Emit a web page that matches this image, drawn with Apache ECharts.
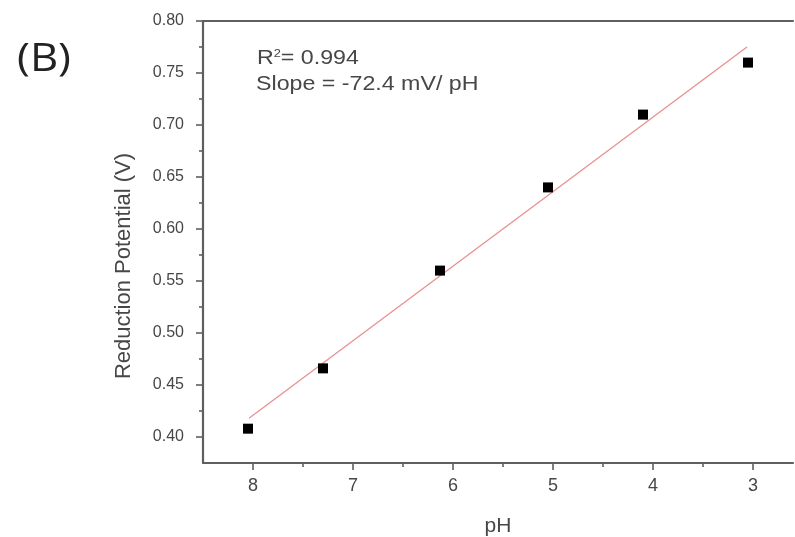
<!DOCTYPE html>
<html><head><meta charset="utf-8">
<script src="https://cdn.jsdelivr.net/npm/echarts@6/dist/echarts.min.js"></script>
<style>html,body{margin:0;padding:0;background:#fff}#c{width:795px;height:537px}</style>
</head><body><div id="c"></div>
<script>
const phValues = [8.05, 7.30, 6.13, 5.05, 4.10, 3.05];
const potentials = [0.408, 0.466, 0.560, 0.640, 0.710, 0.760];
const fitLine = [[8.04, 0.418], [3.06, 0.775]];
const xMajorTicks = [8, 7, 6, 5, 4, 3];
const xMinorTicks = [7.5, 6.5, 5.5, 4.5, 3.5];
const yMajorTicks = [0.40, 0.45, 0.50, 0.55, 0.60, 0.65, 0.70, 0.75, 0.80];
const yMinorTicks = [0.425, 0.475, 0.525, 0.575, 0.625, 0.675, 0.725, 0.775];

const font = 'Liberation Sans, Arial, sans-serif';
const axisCol = '#5f5f5f';
const txtCol = '#474747';
const chart = echarts.init(document.getElementById('c'));
chart.setOption({
  animation: false,
  grid: {left: 203, right: 2, top: 21, bottom: 74, containLabel: false, outerBoundsMode: 'none'},
  xAxis: [
    {type: 'value', inverse: true, min: 2.6, max: 8.5, position: 'bottom',
     name: 'pH', nameLocation: 'middle', nameGap: 53,
     nameTextStyle: {fontFamily: font, fontSize: 21, color: txtCol},
     axisLine: {show: true, onZero: false, lineStyle: {color: axisCol, width: 2.2}},
     axisTick: {show: true, length: 7, customValues: xMajorTicks, lineStyle: {color: axisCol, width: 1.6}},
     axisLabel: {customValues: xMajorTicks, margin: 14, fontFamily: font, fontSize: 18, color: txtCol},
     splitLine: {show: false}},
    {type: 'value', inverse: true, min: 2.6, max: 8.5, position: 'bottom',
     axisLine: {show: false},
     axisTick: {show: true, length: 4, customValues: xMinorTicks, lineStyle: {color: axisCol, width: 1.6}},
     axisLabel: {show: false}, splitLine: {show: false}},
    {type: 'value', inverse: true, min: 2.6, max: 8.5, position: 'top',
     axisLine: {show: true, onZero: false, lineStyle: {color: axisCol, width: 2.2}},
     axisTick: {show: false}, axisLabel: {show: false}, splitLine: {show: false}}
  ],
  yAxis: [
    {type: 'value', min: 0.375, max: 0.80, position: 'left',
     name: 'Reduction Potential (V)', nameLocation: 'middle', nameGap: 68,
     nameTextStyle: {fontFamily: font, fontSize: 22, color: txtCol, padding: [0, 48, 0, 0]},
     axisLine: {show: true, onZero: false, lineStyle: {color: axisCol, width: 2.2}},
     axisTick: {show: true, length: 7, customValues: yMajorTicks, lineStyle: {color: axisCol, width: 1.6}},
     axisLabel: {customValues: yMajorTicks, margin: 19, fontFamily: font, fontSize: 16, color: txtCol,
       formatter: v => v.toFixed(2)},
     splitLine: {show: false}},
    {type: 'value', min: 0.375, max: 0.80, position: 'left',
     axisLine: {show: false},
     axisTick: {show: true, length: 4, customValues: yMinorTicks, lineStyle: {color: axisCol, width: 1.6}},
     axisLabel: {show: false}, splitLine: {show: false}}
  ],
  series: [
    {type: 'line', data: fitLine, xAxisIndex: 0, yAxisIndex: 0, symbol: 'none',
     lineStyle: {color: '#e99090', width: 1.3}, z: 2},
    {type: 'scatter', data: phValues.map((p, i) => [p, potentials[i]]), xAxisIndex: 0, yAxisIndex: 0,
     symbol: 'rect', symbolSize: 10, itemStyle: {color: '#000', opacity: 1}, z: 3}
  ],
  graphic: [
    {type: 'text', x: 17, y: 60, scaleX: 1.15, style: {text: '(B)', font: '38px "Open Sans", sans-serif', fill: '#222', verticalAlign: 'middle'}},
    {type: 'text', x: 257, y: 58, scaleX: 1.16, style: {
      text: '{a|R}{s|2}{a|= 0.994}', verticalAlign: 'middle', fill: txtCol,
      rich: {a: {fontFamily: font, fontSize: 20, fill: txtCol},
             s: {fontFamily: font, fontSize: 11, fill: txtCol, verticalAlign: 'top', padding: [0, 0, 9, 0]}}}},
    {type: 'text', x: 256, y: 84.5, scaleX: 1.16, style: {text: 'Slope = -72.4 mV/ pH', font: '20px Liberation Sans, Arial, sans-serif', fill: txtCol, verticalAlign: 'middle'}}
  ]
});
</script></body></html>
